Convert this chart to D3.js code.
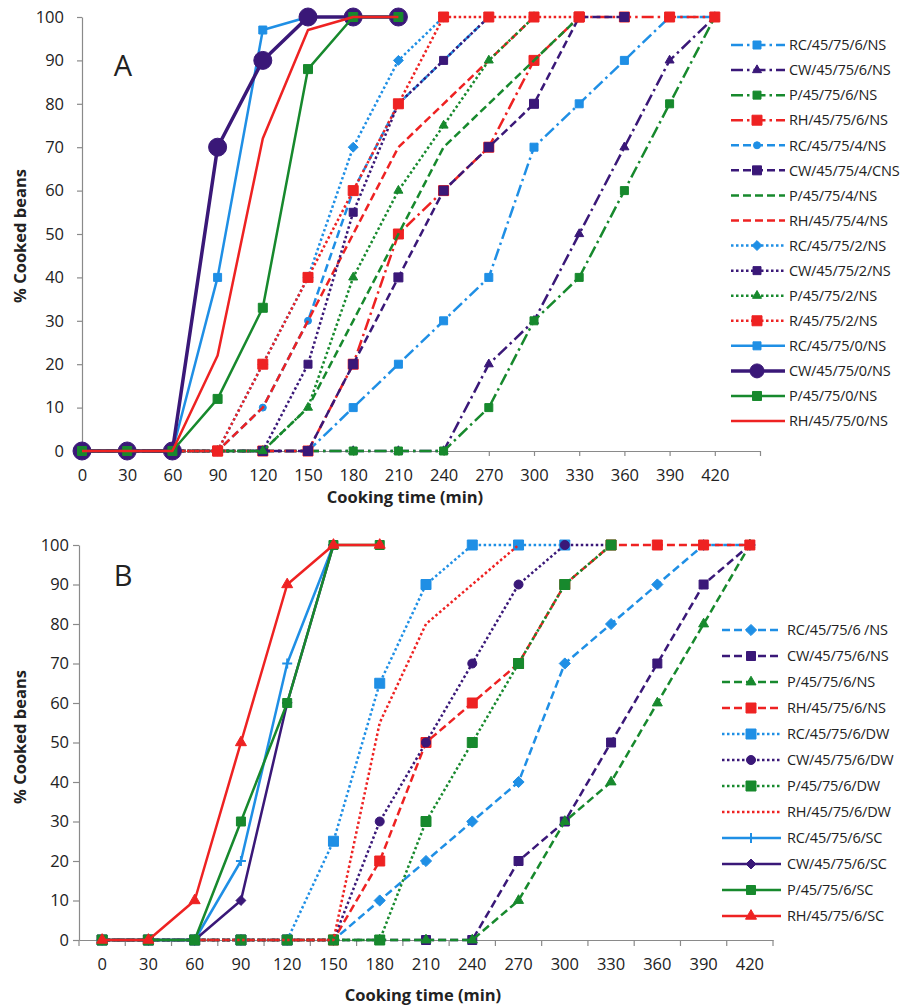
<!DOCTYPE html>
<html>
<head>
<meta charset="utf-8">
<script src="https://cdn.jsdelivr.net/npm/d3@7"></script>
<style>
  body { margin: 0; background: #fff; }
  svg text { font-family: "Open Sans", sans-serif; fill: #222; }
</style>
</head>
<body>
<svg width="903" height="1007"></svg>
<script>
// ---------- data ----------
const times = [0, 30, 60, 90, 120, 150, 180, 210, 240, 270, 300, 330, 360, 390, 420];
const yTicks = [0, 10, 20, 30, 40, 50, 60, 70, 80, 90, 100];

// Panel A
const namesA = [
  "RC/45/75/6/NS", "CW/45/75/6/NS", "P/45/75/6/NS", "RH/45/75/6/NS",
  "RC/45/75/4/NS", "CW/45/75/4/CNS", "P/45/75/4/NS", "RH/45/75/4/NS",
  "RC/45/75/2/NS", "CW/45/75/2/NS", "P/45/75/2/NS", "R/45/75/2/NS",
  "RC/45/75/0/NS", "CW/45/75/0/NS", "P/45/75/0/NS", "RH/45/75/0/NS"
];
const valuesA = [
  [0, 0, 0, 0, 0, 0, 10, 20, 30, 40, 70, 80, 90, 100, 100],
  [0, 0, 0, 0, 0, 0, 0, 0, 0, 20, 30, 50, 70, 90, 100],
  [0, 0, 0, 0, 0, 0, 0, 0, 0, 10, 30, 40, 60, 80, 100],
  [0, 0, 0, 0, 0, 0, 20, 50, 60, 70, 90, 100, 100, 100, 100],
  [0, 0, 0, 0, 10, 30, 60, 80, 90, 100],
  [0, 0, 0, 0, 0, 0, 20, 40, 60, 70, 80, 100, 100],
  [0, 0, 0, 0, 0, 10, 30, 50, 70, 80, 90, 100],
  [0, 0, 0, 0, 10, 30, 50, 70, 80, 90, 100],
  [0, 0, 0, 0, 20, 40, 70, 90, 100],
  [0, 0, 0, 0, 0, 20, 55, 80, 90, 100],
  [0, 0, 0, 0, 0, 10, 40, 60, 75, 90, 100],
  [0, 0, 0, 0, 20, 40, 60, 80, 100, 100, 100, 100],
  [0, 0, 0, 40, 97, 100],
  [0, 0, 0, 70, 90, 100, 100, 100],
  [0, 0, 0, 12, 33, 88, 100, 100],
  [0, 0, 0, 22, 72, 97, 100, 100]
];

// Panel B
const namesB = [
  "RC/45/75/6 /NS", "CW/45/75/6/NS", "P/45/75/6/NS", "RH/45/75/6/NS",
  "RC/45/75/6/DW", "CW/45/75/6/DW", "P/45/75/6/DW", "RH/45/75/6/DW",
  "RC/45/75/6/SC", "CW/45/75/6/SC", "P/45/75/6/SC", "RH/45/75/6/SC"
];
const valuesB = [
  [0, 0, 0, 0, 0, 0, 10, 20, 30, 40, 70, 80, 90, 100, 100],
  [0, 0, 0, 0, 0, 0, 0, 0, 0, 20, 30, 50, 70, 90, 100],
  [0, 0, 0, 0, 0, 0, 0, 0, 0, 10, 30, 40, 60, 80, 100],
  [0, 0, 0, 0, 0, 0, 20, 50, 60, 70, 90, 100, 100, 100, 100],
  [0, 0, 0, 0, 0, 25, 65, 90, 100, 100, 100],
  [0, 0, 0, 0, 0, 0, 30, 50, 70, 90, 100, 100],
  [0, 0, 0, 0, 0, 0, 0, 30, 50, 70, 90, 100],
  [0, 0, 0, 0, 0, 0, 55, 80, 90, 100],
  [0, 0, 0, 20, 70, 100],
  [0, 0, 0, 10, 60, 100],
  [0, 0, 0, 30, 60, 100, 100],
  [0, 0, 10, 50, 90, 100, 100]
];

// ---------- styles ----------
const BLUE = "#1f8fe5", PURPLE = "#3a1878", GREEN = "#17892d", RED = "#ee2222";
const DASHDOT = "12,4,2.5,4", DASH = "8,4", DOT = "2.5,2.5";

const stylesA = [
  { c: BLUE,   dash: DASHDOT, m: "square",   s: 8 },
  { c: PURPLE, dash: DASHDOT, m: "triangle", s: 9 },
  { c: GREEN,  dash: DASHDOT, m: "square",   s: 8 },
  { c: RED,    dash: DASHDOT, m: "square",   s: 10 },
  { c: BLUE,   dash: DASH,    m: "circle",   s: 7 },
  { c: PURPLE, dash: DASH,    m: "square",   s: 9 },
  { c: GREEN,  dash: DASH,    m: null },
  { c: RED,    dash: DASH,    m: null },
  { c: BLUE,   dash: DOT,     m: "diamond",  s: 8 },
  { c: PURPLE, dash: DOT,     m: "square",   s: 8 },
  { c: GREEN,  dash: DOT,     m: "triangle", s: 9 },
  { c: RED,    dash: DOT,     m: "square",   s: 10 },
  { c: BLUE,   dash: null,    m: "square",   s: 8 },
  { c: PURPLE, dash: null,    m: "circle",   s: 18, w: 3.5 },
  { c: GREEN,  dash: null,    m: "square",   s: 9 },
  { c: RED,    dash: null,    m: null }
];
const stylesB = [
  { c: BLUE,   dash: DASH, m: "diamond",  s: 9 },
  { c: PURPLE, dash: DASH, m: "square",   s: 9 },
  { c: GREEN,  dash: DASH, m: "triangle", s: 10 },
  { c: RED,    dash: DASH, m: "square",   s: 10 },
  { c: BLUE,   dash: DOT,  m: "square",   s: 10 },
  { c: PURPLE, dash: DOT,  m: "circle",   s: 9 },
  { c: GREEN,  dash: DOT,  m: "square",   s: 10 },
  { c: RED,    dash: DOT,  m: null },
  { c: BLUE,   dash: null, m: "plus",     s: 10 },
  { c: PURPLE, dash: null, m: "diamond",  s: 8 },
  { c: GREEN,  dash: null, m: "square",   s: 9 },
  { c: RED,    dash: null, m: "triangle", s: 11 }
];

function markerPath(type, s) {
  if (type === "square") return d3.symbol(d3.symbolSquare, s * s)();
  if (type === "circle") return d3.symbol(d3.symbolCircle, Math.PI * s * s / 4)();
  if (type === "triangle") return d3.symbol(d3.symbolTriangle, 0.433 * s * s)();
  if (type === "diamond") { const h = s * 0.62; return `M0,${-h}L${h},0L0,${h}L${-h},0Z`; }
  if (type === "plus") { const h = s / 2; return `M${-h},0H${h}M0,${-h}V${h}`; }
  return null;
}

const svg = d3.select("svg");
const AXIS = "#8a8a8a";
const TICK_FONT = "16.5px";
const TITLE_FONT = "16.5px";

function styleAxis(g) {
  g.select(".domain").attr("stroke", AXIS).attr("stroke-width", 1.2);
  g.selectAll(".tick line").attr("stroke", AXIS).attr("stroke-width", 1.2);
  g.selectAll(".tick text").style("font-size", TICK_FONT).style("fill", "#222");
}

function drawSeries(g, vals, st, xPos, y) {
  const line = d3.line().x((d, i) => xPos(times[i])).y(d => y(d));
  const p = g.append("path")
    .datum(vals)
    .attr("d", line)
    .attr("fill", "none")
    .attr("stroke", st.c)
    .attr("stroke-width", st.w || 2.5)
    .attr("stroke-linejoin", "round");
  if (st.dash) p.attr("stroke-dasharray", st.dash);
  if (st.m) {
    g.selectAll(null)
      .data(vals)
      .enter()
      .append("path")
      .attr("d", markerPath(st.m, st.s))
      .attr("transform", (d, i) => `translate(${xPos(times[i])},${y(d)})`)
      .attr("fill", st.m === "plus" ? "none" : st.c)
      .attr("stroke", st.c)
      .attr("stroke-width", st.m === "plus" ? 2 : 1);
  }
}

function drawLegend(g, names, styles, x0, x1, xm, xt, y0, step) {
  names.forEach((name, i) => {
    const st = styles[i];
    const yy = y0 + i * step;
    const l = g.append("line")
      .attr("x1", x0).attr("x2", x1).attr("y1", yy).attr("y2", yy)
      .attr("stroke", st.c).attr("stroke-width", st.w || 2.5);
    if (st.dash) l.attr("stroke-dasharray", st.dash);
    if (st.m) {
      g.append("path")
        .attr("d", markerPath(st.m, st.m === "circle" && st.s > 12 ? 14 : st.s))
        .attr("transform", `translate(${xm},${yy})`)
        .attr("fill", st.m === "plus" ? "none" : st.c)
        .attr("stroke", st.c)
        .attr("stroke-width", st.m === "plus" ? 2 : 1);
    }
    g.append("text")
      .attr("x", xt).attr("y", yy).attr("dy", "0.36em")
      .style("font-size", "14.5px")
      .style("letter-spacing", "-0.2px")
      .text(name);
  });
}

// ---------- Panel A ----------
const xA = d3.scaleLinear().domain([0, 450]).range([82, 760]);
const yA = d3.scaleLinear().domain([0, 100]).range([451, 17]);

svg.append("g")
  .attr("transform", `translate(${xA(0)},0)`)
  .call(d3.axisLeft(yA).tickValues(yTicks).tickSize(5).tickPadding(13).tickSizeOuter(0))
  .call(styleAxis);

svg.append("g")
  .attr("transform", `translate(0,${yA(0)})`)
  .call(d3.axisBottom(xA).tickValues(d3.range(0, 451, 30)).tickSize(5).tickPadding(13)
    .tickSizeOuter(0).tickFormat(d => d <= 420 ? d : ""))
  .call(styleAxis);

const gA = svg.append("g");
valuesA.forEach((vals, i) => drawSeries(gA, vals, stylesA[i], xA, yA));

drawLegend(svg.append("g"), namesA, stylesA, 731, 785, 757, 789, 45, 25.07);

svg.append("text").attr("x", 123).attr("y", 76).attr("text-anchor", "middle")
  .style("font-size", "29px").text("A");

svg.append("text").attr("x", 405).attr("y", 503).attr("text-anchor", "middle")
  .style("font-size", TITLE_FONT).style("font-weight", "bold").text("Cooking time (min)");

svg.append("text")
  .attr("transform", "translate(26,236) rotate(-90)")
  .attr("text-anchor", "middle")
  .style("font-size", TITLE_FONT).style("font-weight", "bold").text("% Cooked beans");

// ---------- Panel B ----------
const xB = d3.scaleBand().domain(times).range([79, 773]).padding(0);
const xBc = t => xB(t) + xB.bandwidth() / 2;
const yB = d3.scaleLinear().domain([0, 100]).range([940, 545]);

svg.append("g")
  .attr("transform", `translate(79,0)`)
  .call(d3.axisLeft(yB).tickValues(yTicks).tickSize(6).tickPadding(4).tickSizeOuter(0))
  .call(styleAxis);

const xAxisB = svg.append("g")
  .attr("transform", `translate(0,${yB(0)})`)
  .call(d3.axisBottom(xB).tickSize(0).tickPadding(18).tickSizeOuter(0))
  .call(styleAxis);

// tick marks at category boundaries
xAxisB.selectAll(".bound")
  .data(times.map(t => xB(t)).concat([xB.range()[1]]))
  .enter()
  .append("line")
  .attr("x1", d => d).attr("x2", d => d)
  .attr("y1", 0).attr("y2", 6)
  .attr("stroke", AXIS).attr("stroke-width", 1.2);

const gB = svg.append("g");
valuesB.forEach((vals, i) => drawSeries(gB, vals, stylesB[i], xBc, yB));

drawLegend(svg.append("g"), namesB, stylesB, 722, 781, 751, 787, 630, 26.0);

svg.append("text").attr("x", 123).attr("y", 586).attr("text-anchor", "middle")
  .style("font-size", "29px").text("B");

svg.append("text").attr("x", 423).attr("y", 1001).attr("text-anchor", "middle")
  .style("font-size", TITLE_FONT).style("font-weight", "bold").text("Cooking time (min)");

svg.append("text")
  .attr("transform", "translate(26,737) rotate(-90)")
  .attr("text-anchor", "middle")
  .style("font-size", TITLE_FONT).style("font-weight", "bold").text("% Cooked beans");
</script>
</body>
</html>
